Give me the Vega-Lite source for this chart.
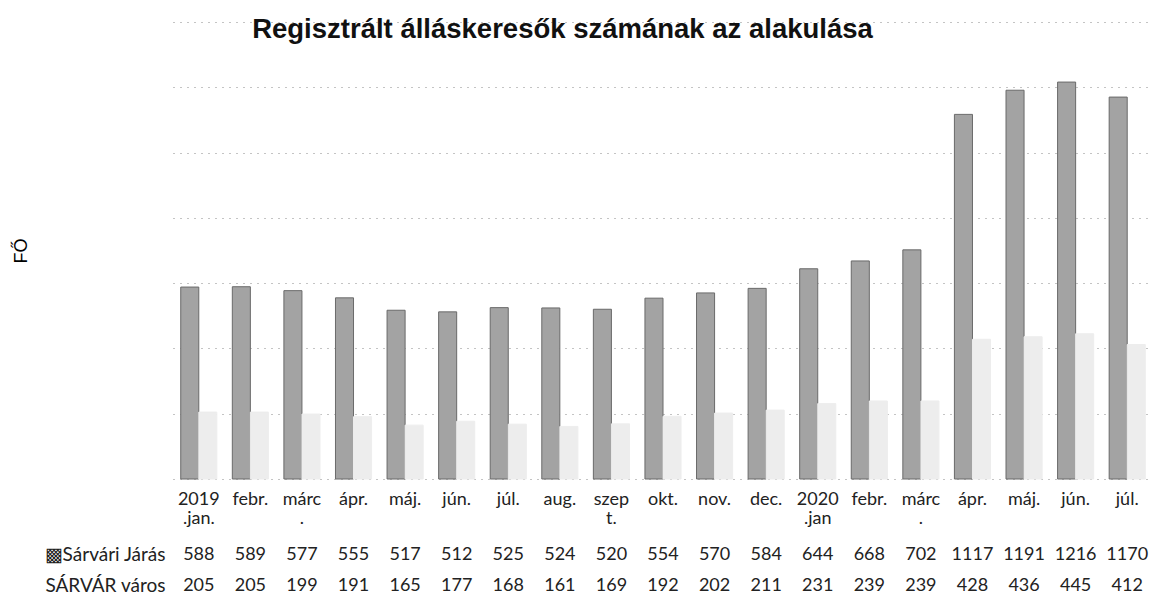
{
  "$schema": "https://vega.github.io/schema/vega-lite/v6.json",
  "padding": {"left": 12, "top": 15, "right": 0, "bottom": 0},
  "title": {"text": "Regisztrált álláskeresők számának az alakulása", "font": "Liberation Sans", "fontSize": 27.5, "fontWeight": "bold", "color": "#111", "anchor": "middle", "frame": "bounds", "offset": -21, "dx": -20},
  "config": {"view": {"stroke": null}, "font": "Lato"},
  "spacing": 12,
  "datasets": {
    "d": [
      {"m": "19-01:2019|.jan.", "s": "Sárvári Járás", "v": 588},
      {"m": "19-01:2019|.jan.", "s": "SÁRVÁR város", "v": 205},
      {"m": "19-02:febr.", "s": "Sárvári Járás", "v": 589},
      {"m": "19-02:febr.", "s": "SÁRVÁR város", "v": 205},
      {"m": "19-03:márc|.", "s": "Sárvári Járás", "v": 577},
      {"m": "19-03:márc|.", "s": "SÁRVÁR város", "v": 199},
      {"m": "19-04:ápr.", "s": "Sárvári Járás", "v": 555},
      {"m": "19-04:ápr.", "s": "SÁRVÁR város", "v": 191},
      {"m": "19-05:máj.", "s": "Sárvári Járás", "v": 517},
      {"m": "19-05:máj.", "s": "SÁRVÁR város", "v": 165},
      {"m": "19-06:jún.", "s": "Sárvári Járás", "v": 512},
      {"m": "19-06:jún.", "s": "SÁRVÁR város", "v": 177},
      {"m": "19-07:júl.", "s": "Sárvári Járás", "v": 525},
      {"m": "19-07:júl.", "s": "SÁRVÁR város", "v": 168},
      {"m": "19-08:aug.", "s": "Sárvári Járás", "v": 524},
      {"m": "19-08:aug.", "s": "SÁRVÁR város", "v": 161},
      {"m": "19-09:szep|t.", "s": "Sárvári Járás", "v": 520},
      {"m": "19-09:szep|t.", "s": "SÁRVÁR város", "v": 169},
      {"m": "19-10:okt.", "s": "Sárvári Járás", "v": 554},
      {"m": "19-10:okt.", "s": "SÁRVÁR város", "v": 192},
      {"m": "19-11:nov.", "s": "Sárvári Járás", "v": 570},
      {"m": "19-11:nov.", "s": "SÁRVÁR város", "v": 202},
      {"m": "19-12:dec.", "s": "Sárvári Járás", "v": 584},
      {"m": "19-12:dec.", "s": "SÁRVÁR város", "v": 211},
      {"m": "20-01:2020|.jan", "s": "Sárvári Járás", "v": 644},
      {"m": "20-01:2020|.jan", "s": "SÁRVÁR város", "v": 231},
      {"m": "20-02:febr.", "s": "Sárvári Járás", "v": 668},
      {"m": "20-02:febr.", "s": "SÁRVÁR város", "v": 239},
      {"m": "20-03:márc|.", "s": "Sárvári Járás", "v": 702},
      {"m": "20-03:márc|.", "s": "SÁRVÁR város", "v": 239},
      {"m": "20-04:ápr.", "s": "Sárvári Járás", "v": 1117},
      {"m": "20-04:ápr.", "s": "SÁRVÁR város", "v": 428},
      {"m": "20-05:máj.", "s": "Sárvári Járás", "v": 1191},
      {"m": "20-05:máj.", "s": "SÁRVÁR város", "v": 436},
      {"m": "20-06:jún.", "s": "Sárvári Járás", "v": 1216},
      {"m": "20-06:jún.", "s": "SÁRVÁR város", "v": 445},
      {"m": "20-07:júl.", "s": "Sárvári Járás", "v": 1170},
      {"m": "20-07:júl.", "s": "SÁRVÁR város", "v": 412}
    ]
  },
  "vconcat": [
    {
      "width": 980,
      "height": 457,
      "data": {"name": "d"},
      "mark": {"type": "bar", "strokeWidth": 1},
      "encoding": {
        "x": {
          "field": "m", "type": "nominal", "sort": null,
          "scale": {"type": "band", "paddingInner": 0.3, "paddingOuter": 0.15},
          "axis": {"title": null, "domain": false, "ticks": false, "labelAngle": 0, "labelFont": "Lato", "labelFontSize": 18, "labelColor": "#222", "labelPadding": 11, "labelBaseline": "top", "labelLineHeight": 19, "labelOverlap": false, "labelLimit": 0, "labelExpr": "split(split(datum.value, ':')[1], '|')"}
        },
        "xOffset": {"field": "s", "type": "nominal", "sort": ["Sárvári Járás", "SÁRVÁR város"], "scale": {"paddingInner": 0, "paddingOuter": 0}},
        "y": {
          "field": "v", "type": "quantitative",
          "scale": {"domain": [0, 1400], "nice": false},
          "axis": {"title": "FŐ", "labels": false, "ticks": false, "domain": false, "values": [0, 200, 400, 600, 800, 1000, 1200, 1400], "gridDash": [1, 6], "gridColor": "#888", "titleFont": "Liberation Sans", "titleFontSize": 18, "titleFontWeight": "normal", "titleColor": "#000", "titlePadding": 143}
        },
        "fill": {"field": "s", "type": "nominal", "sort": ["Sárvári Járás", "SÁRVÁR város"], "scale": {"range": ["#a3a3a3", "#ededed"]}, "legend": null},
        "stroke": {"field": "s", "type": "nominal", "sort": ["Sárvári Járás", "SÁRVÁR város"], "scale": {"range": ["#6a6a6a", "#ededed"]}, "legend": null}
      }
    },
    {
      "width": 980,
      "height": 62,
      "data": {"name": "d"},
      "mark": {"type": "text", "font": "Lato", "fontSize": 18, "color": "#222"},
      "encoding": {
        "x": {"field": "m", "type": "nominal", "sort": null, "scale": {"type": "band", "paddingInner": 0.3, "paddingOuter": 0.15}, "axis": null},
        "y": {"field": "s", "type": "nominal", "sort": ["Sárvári Járás", "SÁRVÁR város"], "axis": {"title": null, "domain": false, "ticks": false, "labelFont": "Lato", "labelFontSize": 19, "labelColor": "#222", "labelPadding": 8, "labelLimit": 0, "labelExpr": "datum.value == 'Sárvári Járás' ? '▩' + datum.value : datum.value"}},
        "text": {"field": "v", "type": "quantitative", "format": "d"}
      }
    }
  ]
}
